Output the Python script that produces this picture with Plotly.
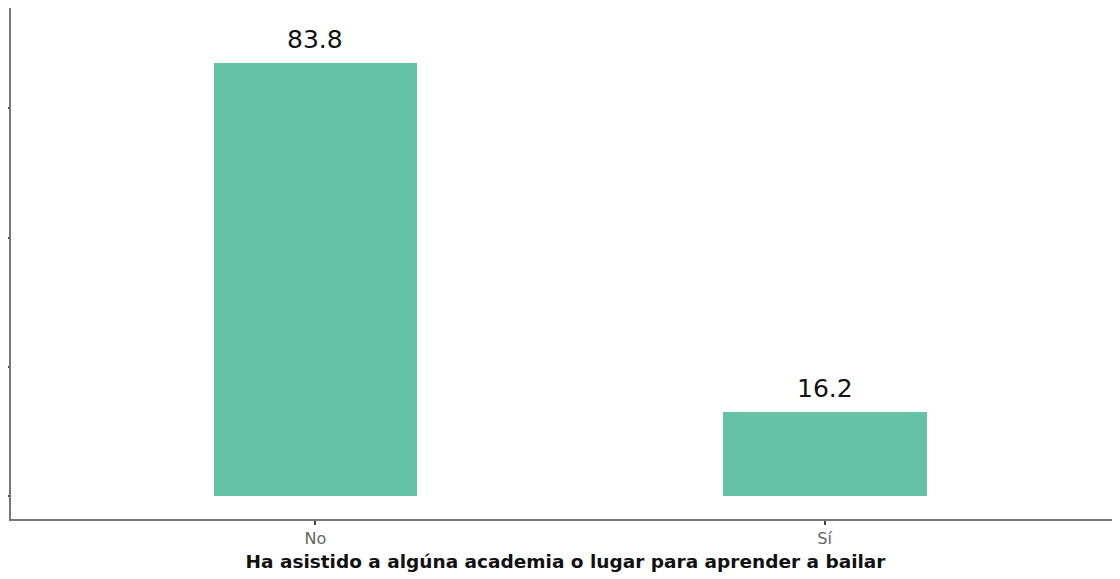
import plotly.graph_objects as go

categories = ["No", "Sí"]
values = [83.8, 16.2]
labels = ["83.8", "16.2"]
y_ticks = [0, 25, 50, 75]

fig = go.Figure()
fig.add_trace(go.Bar(
    x=categories, y=values, width=0.4,
    marker=dict(color="#66c2a5", line=dict(width=0)),
    hoverinfo="skip",
))
for c, v, t in zip(categories, values, labels):
    fig.add_annotation(x=c, y=v, text=t, showarrow=False, yanchor="bottom", yshift=7,
                       font=dict(family="DejaVu Sans", size=25, color="#111111"))

fig.update_layout(
    width=1112, height=571,
    margin=dict(l=3, r=0, t=0, b=60),
    plot_bgcolor="white", paper_bgcolor="white",
    showlegend=False,
    bargap=0,
    xaxis=dict(
        range=[-0.598, 1.58], showline=True, linecolor="#777777", linewidth=2,
        ticks="outside", ticklen=4, tickcolor="#444444", tickwidth=2,
        tickfont=dict(family="DejaVu Sans", size=16, color="#666666"),
        showgrid=False, zeroline=False,
        title=dict(text="<b>Ha asistido a algúna academia o lugar para aprender a bailar</b>",
                   font=dict(family="DejaVu Sans", size=18.5, color="#111111"), standoff=8),
    ),
    yaxis=dict(
        range=[-4.45, 94.4], tickvals=y_ticks, showticklabels=False,
        showline=True, linecolor="#777777", linewidth=2,
        ticks="outside", ticklen=4, tickcolor="#444444", tickwidth=2,
        showgrid=False, zeroline=False,
    ),
)
fig.write_html("out.html")
